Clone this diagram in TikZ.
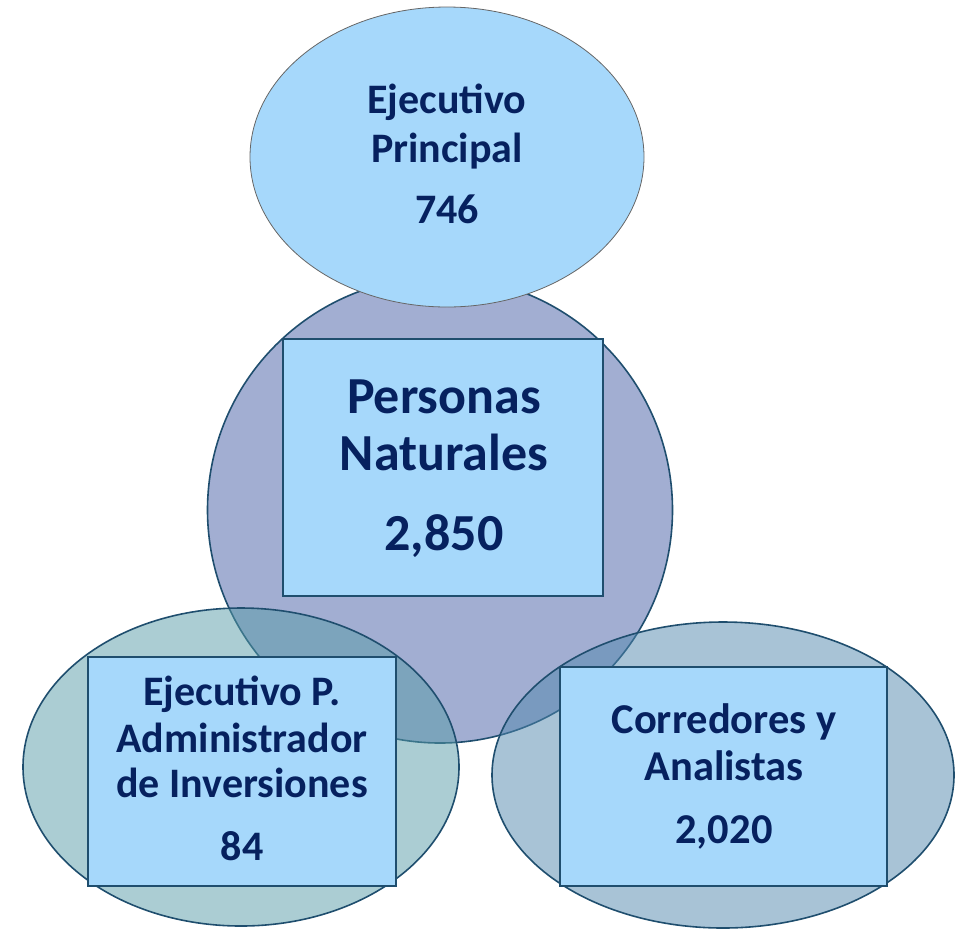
\documentclass[tikz,border=0pt]{standalone}
\usepackage{fontspec}
\setmainfont{Carlito}
\usetikzlibrary{shapes.geometric}
\definecolor{txt}{HTML}{06215F}
\definecolor{lightb}{HTML}{A6D8FB}
\definecolor{circfill}{HTML}{A2AED2}
\definecolor{edge}{HTML}{1F4E6E}
\definecolor{blfill}{HTML}{579BA7}
\definecolor{brfill}{HTML}{5187AD}
\tikzset{
  lbl/.style={anchor=base,text=txt,font=\bfseries,inner sep=0pt},
  boxnode/.style={draw=edge,line width=1.5pt,fill=lightb,inner sep=0pt},
  ellnode/.style={ellipse,inner sep=0pt},
  ftop/.style={font=\fontsize{42}{42}\selectfont\bfseries},
  fbig/.style={font=\fontsize{52}{52}\selectfont\bfseries},
  fbl/.style={font=\fontsize{42}{42}\selectfont\bfseries},
  fbr/.style={font=\fontsize{42.5}{42.5}\selectfont\bfseries},
}
\begin{document}
\begin{tikzpicture}[x=1pt,y=-1pt]
\useasboundingbox (0,0) rectangle (955,930);
% central circle
\node[ellnode,draw=edge,line width=1.6pt,fill=circfill,minimum width=465pt,minimum height=466pt] (pn) at (440,510) {};
% top ellipse
\node[ellnode,draw=gray!80!black,line width=0.8pt,fill=lightb,minimum width=394pt,minimum height=300pt] (ep) at (447,157) {};
% bottom ellipses
\node[ellnode,draw=edge,line width=1.6pt,fill=blfill,fill opacity=0.5,draw opacity=1,minimum width=436pt,minimum height=318pt] (adm) at (241,767) {};
\node[ellnode,draw=edge,line width=1.6pt,fill=brfill,fill opacity=0.5,draw opacity=1,minimum width=462pt,minimum height=306pt] (cor) at (723,775) {};
% boxes
\node[boxnode,minimum width=320pt,minimum height=257pt] (pnbox) at (443,467.5) {};
\node[boxnode,minimum width=308pt,minimum height=229pt] (admbox) at (242,771.5) {};
\node[boxnode,minimum width=327pt,minimum height=219pt] (corbox) at (723.5,776.5) {};
% texts
\node[lbl,ftop] (t1) at (447,113) {Ejecutivo};
\node[lbl,ftop] (t2) at (447,162) {Principal};
\node[lbl,ftop] (t3) at (447,223) {746};
\node[lbl,fbig] (t4) at (444,413) {Personas};
\node[lbl,fbig] (t5) at (444,470) {Naturales};
\node[lbl,fbig] (t6) at (444,550) {2,850};
\node[lbl,fbl] (t7) at (242,705) {Ejecutivo P.};
\node[lbl,fbl] (t8) at (242,752) {Administrador};
\node[lbl,fbl] (t9) at (242,797) {de Inversiones};
\node[lbl,fbl] (t10) at (242,860) {84};
\node[lbl,fbr] (t11) at (724,733) {Corredores y};
\node[lbl,fbr] (t12) at (724,780) {Analistas};
\node[lbl,fbr] (t13) at (724,843) {2,020};
\end{tikzpicture}
\end{document}
